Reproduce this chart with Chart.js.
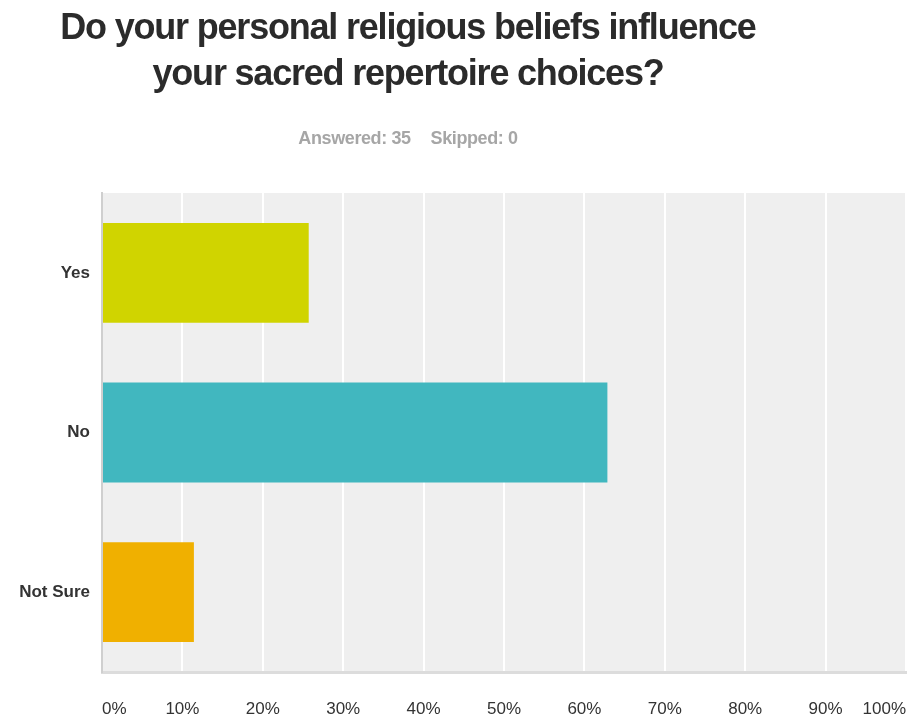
<!DOCTYPE html>
<html>
<head>
<meta charset="utf-8">
<script src="https://cdn.jsdelivr.net/npm/chart.js@4/dist/chart.umd.min.js"></script>
<style>
    html, body { margin: 0; padding: 0; background: #fff; }
    #wrap { position: relative; width: 911px; height: 721px; }
    #title {
        position: absolute; left: 0; top: 4px; width: 816px;
        text-align: center; font-family: "Liberation Sans", Arial, sans-serif;
        font-weight: bold; font-size: 36px; line-height: 46px;
        letter-spacing: -1.2px; color: #2b2b2b;
    }
    #summary {
        position: absolute; left: 0; top: 128px; width: 816px;
        text-align: center; font-family: "Liberation Sans", Arial, sans-serif;
        font-weight: bold; font-size: 18px; letter-spacing: -0.4px; color: #a6a6a6;
    }
    #summary span { margin: 0 10px; }
    canvas { position: absolute; left: 0; top: 0; }
</style>
</head>
<body>
<div id="wrap">
    <canvas id="chart" width="911" height="721"></canvas>
    <div id="title">Do your personal religious beliefs influence<br>your sacred repertoire choices?</div>
    <div id="summary"><span>Answered: 35</span><span>Skipped: 0</span></div>
</div>
<script>
    var answerLabels = ['Yes', 'No', 'Not Sure'];
    var answerPercents = [25.71, 62.86, 11.43];
    var answerColors = ['#d0d400', '#41b7bf', '#f0b000'];
    var percentTicks = [0, 10, 20, 30, 40, 50, 60, 70, 80, 90, 100];

    // grey panel behind the bars
    var plotBackground = {
        id: 'plotBackground',
        beforeDraw: function(chart) {
            var area = chart.chartArea;
            var ctx = chart.ctx;
            ctx.save();
            ctx.fillStyle = '#efefef';
            ctx.fillRect(area.left, area.top, area.right - area.left, area.bottom - area.top);
            ctx.restore();
        }
    };

    new Chart(document.getElementById('chart'), {
        type: 'bar',
        data: {
            labels: answerLabels,
            datasets: [{
                data: answerPercents,
                backgroundColor: answerColors,
                borderWidth: 0,
                categoryPercentage: 1.0,
                barPercentage: 0.625
            }]
        },
        options: {
            indexAxis: 'y',
            responsive: false,
            animation: false,
            layout: {
                padding: { top: 193, right: 5, left: 0, bottom: 0 }
            },
            plugins: {
                legend: { display: false },
                tooltip: { enabled: false }
            },
            scales: {
                x: {
                    min: 0,
                    max: 100,
                    afterFit: function(scale) {
                        scale.height = 49;
                        // end labels are aligned inward, so no overflow room is needed
                        scale.paddingLeft = 0;
                        scale.paddingRight = 0;
                    },
                    afterBuildTicks: function(scale) {
                        scale.ticks = percentTicks.map(function(v) { return { value: v }; });
                    },
                    grid: {
                        color: '#ffffff',
                        lineWidth: 2,
                        drawTicks: false
                    },
                    border: { color: '#dcdcdc', width: 3 },
                    ticks: {
                        align: 'inner',
                        padding: 27,
                        color: '#333',
                        font: { family: '"Liberation Sans", Arial, sans-serif', size: 17 },
                        callback: function(v) { return v + '%'; }
                    }
                },
                y: {
                    afterFit: function(scale) { scale.width = 102; },
                    grid: { display: false, drawTicks: false },
                    border: { color: '#cfcfcf', width: 2 },
                    ticks: {
                        padding: 12,
                        color: '#333',
                        font: { family: '"Liberation Sans", Arial, sans-serif', size: 17, weight: 'bold' }
                    }
                }
            }
        },
        plugins: [plotBackground]
    });
</script>
</body>
</html>
